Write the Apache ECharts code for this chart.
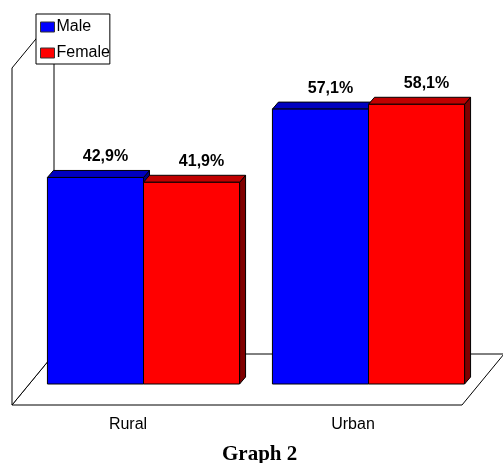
<!DOCTYPE html>
<html>
<head>
<meta charset="utf-8">
<title>Graph 2</title>
<script src="https://cdn.jsdelivr.net/npm/echarts@6/dist/echarts.min.js"></script>
<style>
  html, body { margin: 0; padding: 0; background: #fff; }
  #chart { width: 503px; height: 463px; }
</style>
</head>
<body>
<div id="chart"></div>
<script>
// Share of respondents by area and sex (%)
const categories = ['Rural', 'Urban'];
const seriesNames = ['Male', 'Female'];
const maleValues = [42.9, 57.1];
const femaleValues = [41.9, 58.1];
const axisMax = 70;

const SANS = 'Arial, "Liberation Sans", sans-serif';
const SERIF = '"Times New Roman", "Liberation Serif", serif';

// face colours: front, top, side
const palette = {
  Male:   { front: '#0000FF', top: '#0000C0', side: '#000080' },
  Female: { front: '#FF0000', top: '#C00000', side: '#800000' }
};

// depth of each box and offsets of the floor's front / back edges
const DEPTH_X = 6, DEPTH_Y = 7;
const FRONT = { dx: -19, dy: 21 };
const BACK = { dx: 23, dy: -30 };
const BAR_SHARE = 0.427;

function fmt(v) {
  return v.toFixed(1).replace('.', ',') + '%';
}

// floor, left wall and back corner drawn around the plotting area
function renderFrame(params, api) {
  const cs = params.coordSys;
  const xL = cs.x, xR = cs.x + cs.width;
  const y0 = api.coord([0, 0])[1];
  const h = y0 - api.coord([0, axisMax])[1];
  const fl = [xL + FRONT.dx, y0 + FRONT.dy];
  const fr = [xR + FRONT.dx, y0 + FRONT.dy];
  const br = [xR + BACK.dx, y0 + BACK.dy];
  const bl = [xL + BACK.dx, y0 + BACK.dy];
  const line = { stroke: '#000', lineWidth: 1, fill: '#fff' };
  return {
    type: 'group',
    children: [
      { type: 'polygon', shape: { points: [fl, fr, br, bl] }, style: line },
      { type: 'polygon', shape: { points: [fl, [fl[0], fl[1] - h], [bl[0], bl[1] - h], bl] }, style: line }
    ]
  };
}

function makeBarRenderer(slot, colors) {
  return function (params, api) {
    const v = api.value(1);
    const c = api.coord([api.value(0), v]);
    const base = api.coord([api.value(0), 0]);
    const band = api.size([1, 0])[0];
    const w = band * BAR_SHARE;
    const x1 = slot === 0 ? c[0] - w : c[0];
    const x2 = x1 + w;
    const yT = c[1], yB = base[1];
    const edge = { stroke: '#000', lineWidth: 1 };
    return {
      type: 'group',
      children: [
        { type: 'polygon', shape: { points: [[x2, yT], [x2 + DEPTH_X, yT - DEPTH_Y], [x2 + DEPTH_X, yB - DEPTH_Y], [x2, yB]] },
          style: Object.assign({ fill: colors.side }, edge) },
        { type: 'polygon', shape: { points: [[x1, yT], [x1 + DEPTH_X, yT - DEPTH_Y], [x2 + DEPTH_X, yT - DEPTH_Y], [x2, yT]] },
          style: Object.assign({ fill: colors.top }, edge) },
        { type: 'rect', shape: { x: x1, y: yT, width: w, height: yB - yT },
          style: Object.assign({ fill: colors.front }, edge) },
        { type: 'text', x: (x1 + x2) / 2 + 10, y: yT - 21,
          style: { text: fmt(v), fill: '#000', font: 'bold 16px ' + SANS, align: 'center', verticalAlign: 'middle' } }
      ]
    };
  };
}

const valueSets = [maleValues, femaleValues];

const chart = echarts.init(document.getElementById('chart'), null, { renderer: 'canvas' });
chart.setOption({
  animation: false,
  backgroundColor: '#fff',
  title: {
    text: 'Graph 2',
    left: 222,
    top: 444,
    padding: 0,
    textStyle: { fontFamily: SERIF, fontWeight: 'bold', fontSize: 21, color: '#000' }
  },
  legend: {
    data: seriesNames,
    orient: 'vertical',
    left: 36,
    top: 14,
    padding: [5, 0, 3, 4],
    itemGap: 10,
    itemWidth: 14,
    itemHeight: 10,
    icon: 'rect',
    backgroundColor: '#fff',
    borderColor: '#000',
    borderWidth: 1,
    borderRadius: 0,
    itemStyle: { borderColor: '#333', borderWidth: 1 },
    textStyle: { fontFamily: SANS, fontSize: 16, color: '#000', lineHeight: 16, padding: [0, 0, 0, -3] }
  },
  grid: { left: 31, right: 22, top: 47, bottom: 79 },
  xAxis: {
    type: 'category',
    data: categories,
    axisLine: { show: false },
    axisTick: { show: false },
    axisLabel: { margin: 33, fontFamily: SANS, fontSize: 16, color: '#000', padding: [0, 31, 0, 0] }
  },
  yAxis: { type: 'value', min: 0, max: axisMax, show: false },
  series: [
    {
      type: 'custom',
      name: 'frame',
      silent: true,
      clip: false,
      z: 1,
      renderItem: renderFrame,
      data: [[0, 0]]
    }
  ].concat(seriesNames.map(function (name, s) {
    return {
      type: 'custom',
      name: name,
      clip: false,
      z: 2,
      itemStyle: { color: palette[name].front },
      renderItem: makeBarRenderer(s, palette[name]),
      encode: { x: 0, y: 1 },
      data: categories.map(function (cat, i) { return [i, valueSets[s][i]]; })
    };
  }))
});
</script>
</body>
</html>
